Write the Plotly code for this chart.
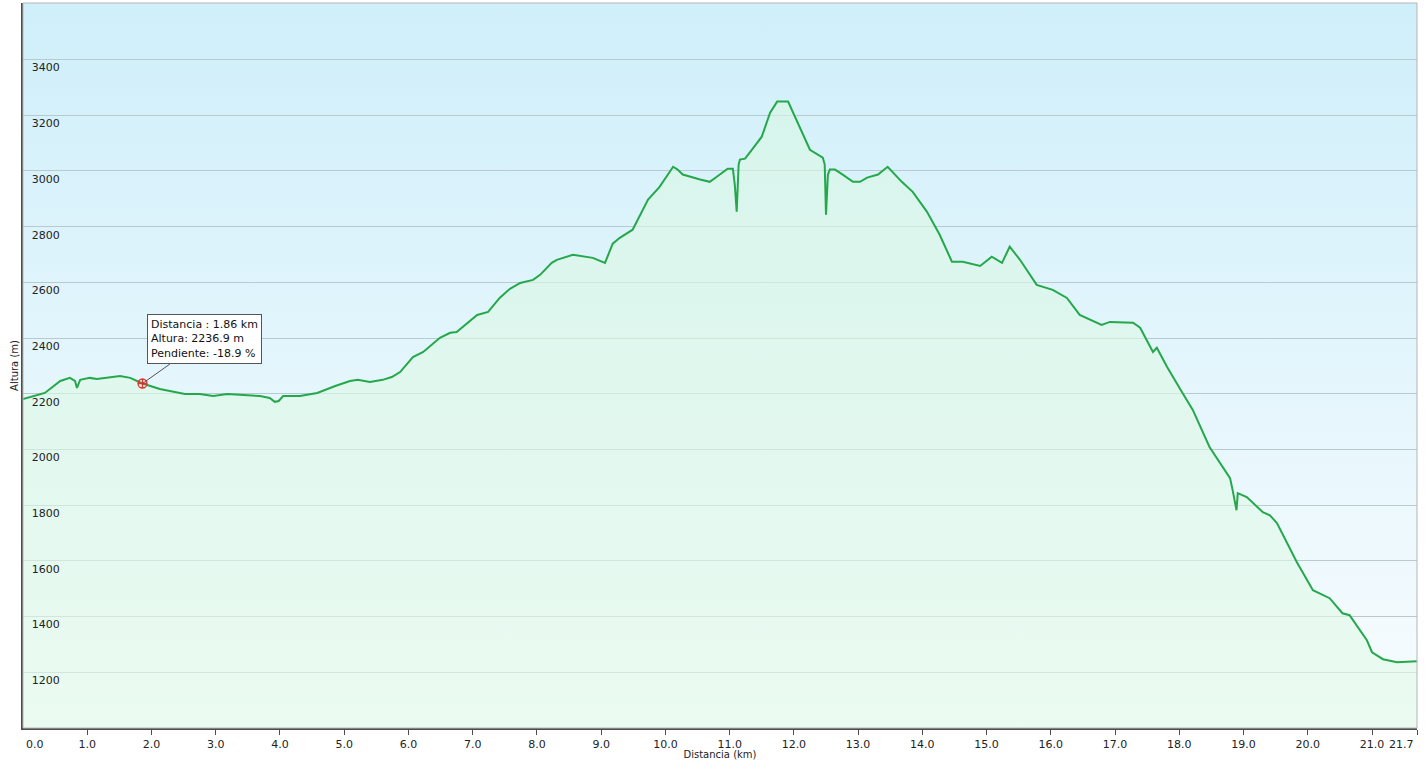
import base64
import plotly.graph_objects as go

# ---- data ----
distance_km = [0.00, 0.34, 0.58, 0.73, 0.81, 0.84, 0.89, 1.04, 1.15, 1.35, 1.51, 1.67, 1.86,
               2.13, 2.33, 2.52, 2.75, 2.96, 3.18, 3.46, 3.69, 3.84, 3.92, 3.98, 4.05, 4.31,
               4.58, 4.86, 5.09, 5.21, 5.40, 5.60, 5.74, 5.87, 6.07, 6.23, 6.49, 6.65, 6.75,
               7.07, 7.24, 7.42, 7.58, 7.74, 7.94, 8.05, 8.23, 8.31, 8.56, 8.87, 9.06, 9.18,
               9.29, 9.49, 9.73, 9.91, 10.12, 10.19, 10.27, 10.54, 10.69, 10.80, 10.97, 11.05,
               11.08, 11.11, 11.14, 11.16, 11.24, 11.36, 11.50, 11.63, 11.74, 11.91, 11.98,
               12.09, 12.25, 12.45, 12.48, 12.50, 12.53, 12.56, 12.64, 12.76, 12.92, 13.03,
               13.14, 13.31, 13.46, 13.68, 13.85, 14.07, 14.27, 14.46, 14.63, 14.90, 15.08,
               15.24, 15.36, 15.52, 15.78, 16.03, 16.25, 16.45, 16.79, 16.92, 17.28, 17.39,
               17.59, 17.65, 17.81, 18.05, 18.21, 18.47, 18.79, 18.83, 18.89, 18.91, 19.05,
               19.30, 19.41, 19.52, 19.83, 20.08, 20.34, 20.54, 20.65, 20.92, 21.00, 21.17,
               21.39, 21.70]
altitude_m = [2181, 2203, 2246, 2257, 2246, 2221, 2250, 2257, 2253, 2260, 2264, 2257, 2237,
              2217, 2207, 2199, 2199, 2192, 2199, 2196, 2192, 2185, 2171, 2174, 2192, 2192,
              2203, 2228, 2246, 2250, 2242, 2250, 2260, 2278, 2332, 2350, 2401, 2419, 2422,
              2483, 2494, 2544, 2577, 2598, 2609, 2627, 2670, 2681, 2699, 2688, 2670, 2739,
              2760, 2789, 2897, 2943, 3015, 3005, 2987, 2969, 2961, 2979, 3008, 3008,
              2951, 2854, 3023, 3041, 3044, 3080, 3123, 3209, 3249, 3249, 3213,
              3156, 3076, 3048, 3023, 2843, 2987, 3005, 3005, 2987, 2961, 2961,
              2976, 2987, 3015, 2961, 2925, 2854, 2771, 2674, 2674, 2659, 2692,
              2670, 2728, 2681, 2591, 2573, 2544, 2483, 2447, 2458, 2455, 2437,
              2350, 2365, 2296, 2203, 2142, 2009, 1897, 1854, 1782, 1843, 1829,
              1775, 1764, 1736, 1595, 1495, 1466, 1412, 1405, 1315, 1272, 1247,
              1236, 1240]

x_tick_vals = [0, 1, 2, 3, 4, 5, 6, 7, 8, 9, 10, 11, 12, 13, 14, 15, 16, 17, 18, 19, 20, 21, 21.7]
x_tick_text = ["0.0", "1.0", "2.0", "3.0", "4.0", "5.0", "6.0", "7.0", "8.0", "9.0", "10.0",
               "11.0", "12.0", "13.0", "14.0", "15.0", "16.0", "17.0", "18.0", "19.0", "20.0",
               "21.0", "21.7"]
y_tick_vals = [1200, 1400, 1600, 1800, 2000, 2200, 2400, 2600, 2800, 3000, 3200, 3400]

tip_km = 1.86
tip_alt = 2236.9
tip_slope = -18.9

X_RANGE = [0, 21.7]
Y_RANGE = [1000, 3603]

FONT = "DejaVu Sans, Verdana, sans-serif"
TICK_FONT = dict(family=FONT, size=11, color="#222222")

# the two end labels sit inside the axis span (as in the reference), so they are
# drawn as annotations anchored at their tick values; the inner ones are tick labels
x_tick_labels = [""] + x_tick_text[1:-1] + [""]

# background gradient image (plot area)
svg = ('<svg xmlns="http://www.w3.org/2000/svg" width="100" height="100" preserveAspectRatio="none">'
       '<defs><linearGradient id="g" x1="0" y1="0" x2="0" y2="1">'
       '<stop offset="0" stop-color="#cfeffa"/><stop offset="1" stop-color="#f8fcfe"/>'
       '</linearGradient></defs><rect width="100" height="100" fill="url(#g)"/></svg>')
bg_src = "data:image/svg+xml;base64," + base64.b64encode(svg.encode()).decode()

fig = go.Figure()

fig.add_trace(go.Scatter(
    x=distance_km, y=altitude_m, mode="lines",
    line=dict(color="#24a84b", width=2),
    fill="tozeroy",
    fillgradient=dict(type="vertical", start=Y_RANGE[0], stop=Y_RANGE[1],
                      colorscale=[[0, "rgba(226,250,232,0.6)"], [1, "rgba(216,247,226,0.6)"]]),
    hoverinfo="skip", showlegend=False,
))

fig.add_trace(go.Scatter(
    x=[tip_km], y=[tip_alt], mode="markers",
    marker=dict(symbol="circle-cross-open", size=9, color="#e53030", line=dict(width=1.3)),
    hoverinfo="skip", showlegend=False,
))

fig.add_annotation(
    x=tip_km, y=tip_alt, xref="x", yref="y",
    text=(f"Distancia : {tip_km:.2f} km<br>Altura: {tip_alt:.1f} m<br>"
          f"Pendiente: {tip_slope:.1f} %"),
    align="left", showarrow=True, arrowhead=0, arrowwidth=1, arrowcolor="#555555",
    ax=62, ay=-44, bgcolor="white", bordercolor="#555555", borderwidth=1, borderpad=3,
    font=dict(family=FONT, size=11, color="#111111"),
)

fig.add_annotation(x=x_tick_vals[0], y=0, xref="x", yref="paper", text=x_tick_text[0],
                   showarrow=False, xanchor="left", yanchor="top", xshift=1, yshift=-8,
                   font=TICK_FONT)
fig.add_annotation(x=x_tick_vals[-1], y=0, xref="x", yref="paper", text=x_tick_text[-1],
                   showarrow=False, xanchor="right", yanchor="top", xshift=-1, yshift=-8,
                   font=TICK_FONT)

fig.update_layout(
    width=1427, height=760,
    margin=dict(l=23, r=10, t=3, b=32, autoexpand=False),
    paper_bgcolor="white",
    plot_bgcolor="#f8fcfe",
    font=dict(family=FONT, size=11, color="#222222"),
    images=[dict(source=bg_src, xref="paper", yref="paper", x=0, y=1, sizex=1, sizey=1,
                 sizing="stretch", layer="below", xanchor="left", yanchor="top")],
    shapes=[dict(type="rect", xref="paper", yref="paper", x0=0, x1=1, y0=0, y1=1,
                 line=dict(color="#b5b5b5", width=1), layer="above")],
)

fig.update_xaxes(
    range=X_RANGE, tickvals=x_tick_vals, ticktext=x_tick_labels,
    showgrid=False, zeroline=False, automargin=False,
    showline=True, linecolor="#4d4d4d", linewidth=2,
    ticks="outside", ticklen=5, tickcolor="#4d4d4d", tickwidth=1,
    tickfont=TICK_FONT,
    title=dict(text="Distancia (km)", font=dict(family=FONT, size=10, color="#222222"), standoff=5),
    layer="above traces",
)
fig.update_yaxes(
    range=Y_RANGE, tickvals=y_tick_vals,
    showgrid=True, gridcolor="#b9c9d0", gridwidth=1, zeroline=False, automargin=False,
    showline=True, linecolor="#4d4d4d", linewidth=2,
    ticks="", ticklabelposition="inside", ticklabelstandoff=8, ticklabelshift=8,
    tickfont=TICK_FONT,
    title=dict(text="Altura (m)", font=dict(family=FONT, size=10, color="#222222"), standoff=11),
    layer="above traces",
)

fig.write_html("out.html", config={"displayModeBar": False},
               post_script="document.body.style.margin='0';document.body.style.overflow='hidden';")
